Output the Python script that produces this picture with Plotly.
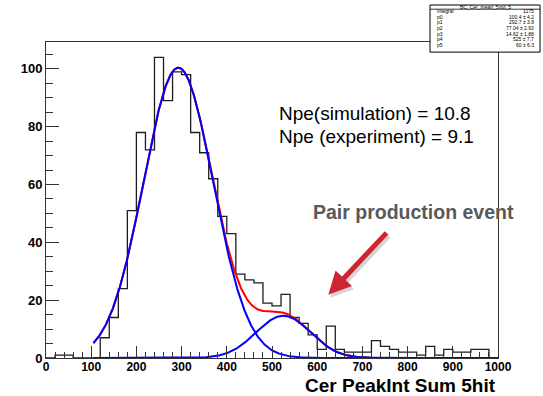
import numpy as np
import plotly.graph_objects as go

# Histogram of the Cherenkov peak integral (sum of 5 hits), 20-unit bins
bin_edges = list(range(0, 1001, 20))
counts = [0, 1, 1, 0, 0, 0, 7, 14, 24, 51,
          78, 72, 104, 89, 99, 98, 78, 71, 62, 49,
          43, 29, 27, 26, 19, 18, 22, 14, 12, 8,
          3, 11, 3, 2, 2, 2, 6, 4, 3, 2,
          2, 1, 4, 1, 3, 2, 2, 3, 3, 0]

# Double-Gaussian fit parameters (p0..p5) and their errors
param_names = ["p0", "p1", "p2", "p3", "p4", "p5"]
param_values = [100.4, 292.7, 77.04, 14.62, 525, 60]
param_errors = ["4.2", "3.8", "2.93", "1.88", "7.7", "6.3"]
param_labels = ["100.4", "292.7", "77.04", "14.62", "525", "60"]
integral_label = "1175"
hist_name = "BC_Cer_mean_5out_5"

fit_range = (105, 1000)


def gauss(x, amp, mean, sigma):
    return amp * np.exp(-0.5 * ((x - mean) / sigma) ** 2)


xs = np.linspace(fit_range[0], fit_range[1], 800)
g_main = gauss(xs, *param_values[0:3])
g_pair = gauss(xs, *param_values[3:6])
g_total = g_main + g_pair

fig = go.Figure()

# step outline of the histogram
fig.add_trace(go.Scatter(
    x=bin_edges, y=counts + [counts[-1]], mode="lines",
    line=dict(shape="hv", color="#1e1e1e", width=1.3),
    hoverinfo="skip"))

# total fit, then the two Gaussian components on top
fig.add_trace(go.Scatter(x=xs, y=g_total, mode="lines",
                         line=dict(color="#ff0000", width=2)))
fig.add_trace(go.Scatter(x=xs, y=g_main, mode="lines",
                         line=dict(color="#0000ff", width=2)))
fig.add_trace(go.Scatter(x=xs, y=g_pair, mode="lines",
                         line=dict(color="#0000ff", width=2)))

axis_color = "#333333"
tick_font_y = dict(family="Liberation Sans, Arial, sans-serif", size=13,
                   color="black", weight="bold")
tick_font_x = dict(family="Liberation Sans, Arial, sans-serif",
                   size=12, color="black", weight="bold")

fig.update_xaxes(
    range=[0, 1000], tick0=0, dtick=100,
    ticks="inside", ticklen=12, tickwidth=1, tickcolor=axis_color,
    minor=dict(dtick=20, ticks="inside", ticklen=6, tickwidth=1,
               tickcolor=axis_color, showgrid=False),
    showline=True, linecolor=axis_color, linewidth=1, mirror=True,
    showgrid=False, zeroline=False, tickfont=tick_font_x,
    ticklabelstandoff=-2,
)
fig.update_yaxes(
    range=[0, 109.3], tick0=0, dtick=20,
    ticks="inside", ticklen=13, tickwidth=1, tickcolor=axis_color,
    minor=dict(dtick=5, ticks="inside", ticklen=7, tickwidth=1,
               tickcolor=axis_color, showgrid=False),
    showline=True, linecolor=axis_color, linewidth=1, mirror=True,
    showgrid=False, zeroline=False, tickfont=tick_font_y,
    ticklabelstandoff=0,
)

annotations = []

# x-axis title, right-aligned with the axis end
annotations.append(dict(
    text="Cer PeakInt Sum 5hit", xref="paper", yref="paper",
    x=1.0, y=-0.0886, xanchor="right", yanchor="middle", showarrow=False,
    font=dict(family="Liberation Sans, Arial, sans-serif", size=19,
              color="black", weight="bold")))

# photoelectron numbers
npe_font = dict(family="Liberation Sans, Arial, sans-serif", size=19, color="black")
annotations.append(dict(text="Npe(simulation) = 10.8", xref="paper", yref="paper",
                        x=0.511, y=0.774, xanchor="left", yanchor="middle",
                        showarrow=False, font=npe_font))
annotations.append(dict(text="Npe (experiment) = 9.1", xref="paper", yref="paper",
                        x=0.511, y=0.700, xanchor="left", yanchor="middle",
                        showarrow=False, font=npe_font))

# pair-production callout
annotations.append(dict(text="Pair production event", xref="paper", yref="paper",
                        x=0.586, y=0.463, xanchor="left", yanchor="middle",
                        showarrow=False,
                        font=dict(family="Liberation Sans, Arial, sans-serif", size=19.5,
                                  color="#595959", weight="bold")))

arrow_tip = (624.6, 21.9)
arrow_tail = (756.6, 43.8)
# soft drop shadow under the arrow
annotations.append(dict(text="", x=arrow_tip[0] + 4.5, y=arrow_tip[1] - 1.1,
                        ax=arrow_tail[0] + 4.5, ay=arrow_tail[1] - 1.1,
                        xref="x", yref="y", axref="x", ayref="y",
                        showarrow=True, arrowhead=2, arrowsize=0.9, arrowwidth=5,
                        arrowcolor="rgba(0,0,0,0.16)"))
annotations.append(dict(text="", x=arrow_tip[0], y=arrow_tip[1],
                        ax=arrow_tail[0], ay=arrow_tail[1],
                        xref="x", yref="y", axref="x", ayref="y",
                        showarrow=True, arrowhead=2, arrowsize=0.9, arrowwidth=5,
                        arrowcolor="#cf2530"))

# fit statistics box in the top-right corner
box_x0, box_x1 = 0.8496, 1.093
box_y0, box_y1 = 0.968, 1.117
shapes = [
    dict(type="rect", xref="paper", yref="paper", x0=box_x0, x1=box_x1,
         y0=box_y0, y1=box_y1, fillcolor="white",
         line=dict(color="black", width=1), layer="above"),
    dict(type="line", xref="paper", yref="paper", x0=box_x0, x1=box_x1,
         y0=1.1038, y1=1.1038, line=dict(color="black", width=0.8), layer="above"),
]
stat_font = dict(family="Liberation Sans, Arial, sans-serif", size=5, color="black")
annotations.append(dict(text=hist_name, xref="paper", yref="paper",
                        x=(box_x0 + box_x1) / 2, y=1.110, xanchor="center",
                        yanchor="middle", showarrow=False, font=stat_font))
row_labels = ["Integral"] + param_names
row_values = [integral_label] + [f"{v} \u00b1 {e}" for v, e in zip(param_labels, param_errors)]
for i, (lab, val) in enumerate(zip(row_labels, row_values)):
    yy = 1.0985 - i * 0.0181
    annotations.append(dict(text=lab, xref="paper", yref="paper", x=box_x0 + 0.01, y=yy,
                            xanchor="left", yanchor="middle", showarrow=False,
                            font=stat_font))
    annotations.append(dict(text=val, xref="paper", yref="paper", x=box_x1 - 0.008, y=yy,
                            xanchor="right", yanchor="middle", showarrow=False,
                            font=stat_font))

fig.update_layout(
    width=543, height=396,
    margin=dict(l=46, r=45, t=42, b=38),
    plot_bgcolor="white", paper_bgcolor="white",
    showlegend=False,
    annotations=annotations,
    shapes=shapes,
)

fig.write_html("out.html", config={"displayModeBar": False})
